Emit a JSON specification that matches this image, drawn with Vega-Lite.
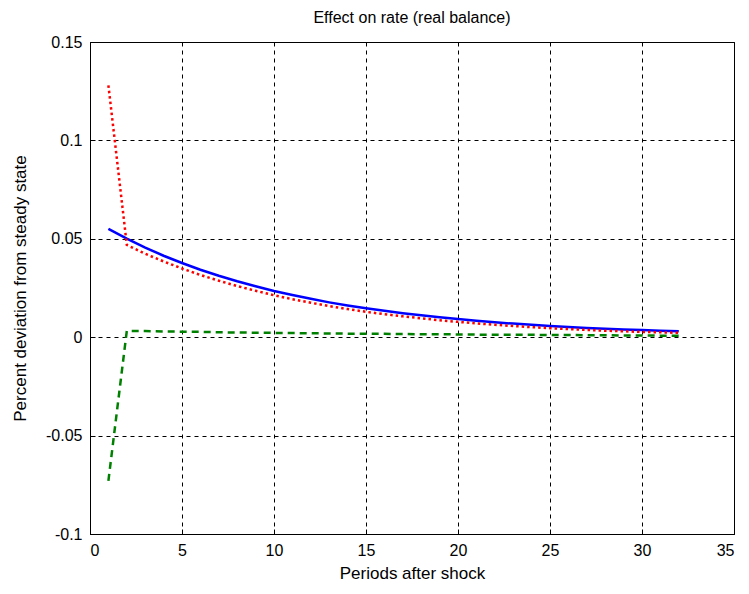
{
  "$schema": "https://vega.github.io/schema/vega-lite/v6.json",
  "autosize": "none",
  "width": 644,
  "height": 492,
  "padding": {"left": 90, "top": 42, "right": 15, "bottom": 60},
  "background": "white",
  "config": {
    "view": {"stroke": "black", "strokeWidth": 1},
    "font": "Liberation Sans",
    "axis": {
      "domain": false,
      "grid": true,
      "gridColor": "black",
      "gridDash": [4, 4],
      "gridOpacity": 1,
      "gridWidth": 1,
      "ticks": true,
      "tickSize": -5,
      "tickColor": "black",
      "labelColor": "black",
      "labelFontSize": 16,
      "titleColor": "black",
      "titleFontSize": 17,
      "titleFontWeight": "normal",
      "labelFont": "Liberation Sans",
      "titleFont": "Liberation Sans"
    },
    "title": {"fontSize": 16, "fontWeight": "normal", "color": "black", "font": "Liberation Sans"}
  },
  "title": {"text": "Effect on rate (real balance)", "offset": 8},
  "data": {
    "values": [
      {"t": 1, "blue": 0.0550, "red": 0.1280, "green": -0.0730},
      {"t": 2, "blue": 0.0501, "red": 0.0469, "green": 0.0032},
      {"t": 3, "blue": 0.0455, "red": 0.0424, "green": 0.0031},
      {"t": 4, "blue": 0.0414, "red": 0.0385, "green": 0.0029},
      {"t": 5, "blue": 0.0377, "red": 0.0349, "green": 0.0028},
      {"t": 6, "blue": 0.0343, "red": 0.0316, "green": 0.0027},
      {"t": 7, "blue": 0.0312, "red": 0.0287, "green": 0.0025},
      {"t": 8, "blue": 0.0284, "red": 0.0260, "green": 0.0024},
      {"t": 9, "blue": 0.0259, "red": 0.0236, "green": 0.0023},
      {"t": 10, "blue": 0.0235, "red": 0.0213, "green": 0.0022},
      {"t": 11, "blue": 0.0214, "red": 0.0193, "green": 0.0021},
      {"t": 12, "blue": 0.0195, "red": 0.0175, "green": 0.0020},
      {"t": 13, "blue": 0.0177, "red": 0.0158, "green": 0.0019},
      {"t": 14, "blue": 0.0161, "red": 0.0143, "green": 0.0018},
      {"t": 15, "blue": 0.0147, "red": 0.0129, "green": 0.0018},
      {"t": 16, "blue": 0.0134, "red": 0.0117, "green": 0.0017},
      {"t": 17, "blue": 0.0122, "red": 0.0106, "green": 0.0016},
      {"t": 18, "blue": 0.0111, "red": 0.0096, "green": 0.0015},
      {"t": 19, "blue": 0.0101, "red": 0.0086, "green": 0.0015},
      {"t": 20, "blue": 0.0092, "red": 0.0078, "green": 0.0014},
      {"t": 21, "blue": 0.0083, "red": 0.0070, "green": 0.0013},
      {"t": 22, "blue": 0.0076, "red": 0.0063, "green": 0.0013},
      {"t": 23, "blue": 0.0069, "red": 0.0057, "green": 0.0012},
      {"t": 24, "blue": 0.0063, "red": 0.0051, "green": 0.0012},
      {"t": 25, "blue": 0.0057, "red": 0.0046, "green": 0.0011},
      {"t": 26, "blue": 0.0052, "red": 0.0041, "green": 0.0011},
      {"t": 27, "blue": 0.0047, "red": 0.0037, "green": 0.0010},
      {"t": 28, "blue": 0.0043, "red": 0.0033, "green": 0.0010},
      {"t": 29, "blue": 0.0039, "red": 0.0030, "green": 0.0009},
      {"t": 30, "blue": 0.0036, "red": 0.0027, "green": 0.0009},
      {"t": 31, "blue": 0.0033, "red": 0.0025, "green": 0.0008},
      {"t": 32, "blue": 0.0030, "red": 0.0022, "green": 0.0008}
    ]
  },
  "encoding": {
    "x": {
      "field": "t",
      "type": "quantitative",
      "scale": {"domain": [0, 35], "nice": false, "zero": false},
      "axis": {"title": "Periods after shock", "values": [0, 5, 10, 15, 20, 25, 30, 35], "labelPadding": 13, "titlePadding": 7}
    }
  },
  "layer": [
    {
      "mark": {"type": "line", "color": "#008000", "strokeWidth": 2.5, "strokeDash": [7, 5]},
      "encoding": {
        "y": {
          "field": "green",
          "type": "quantitative",
          "scale": {"domain": [-0.1, 0.15], "nice": false, "zero": false},
          "axis": {
            "title": "Percent deviation from steady state",
            "values": [-0.1, -0.05, 0, 0.05, 0.1, 0.15],
            "labelExpr": "toString(round(datum.value*100)/100)",
            "labelPadding": 13,
            "titlePadding": 16
          }
        }
      }
    },
    {
      "mark": {"type": "line", "color": "#0000ff", "strokeWidth": 2.5},
      "encoding": {"y": {"field": "blue", "type": "quantitative"}}
    },
    {
      "mark": {"type": "line", "color": "#ff0000", "strokeWidth": 2.5, "strokeDash": [2.5, 3]},
      "encoding": {"y": {"field": "red", "type": "quantitative"}}
    }
  ]
}
